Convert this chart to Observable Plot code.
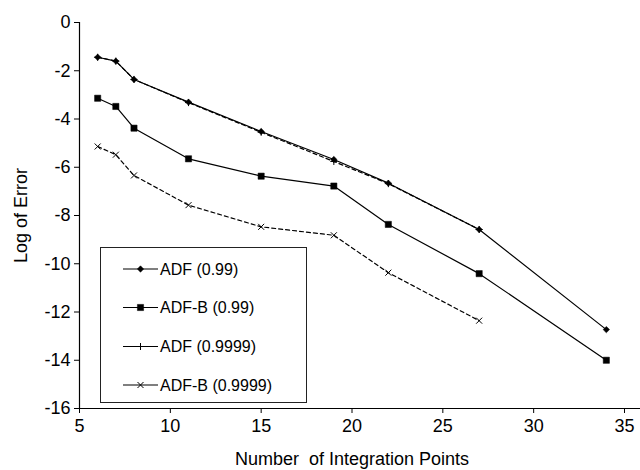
<!DOCTYPE html>
<html>
<head>
<meta charset="utf-8">
<script src="https://cdn.jsdelivr.net/npm/d3@7"></script>
<script src="https://cdn.jsdelivr.net/npm/@observablehq/plot@0.6"></script>
<style>
  html, body { margin: 0; padding: 0; background: #fff; }
  #wrap { position: relative; width: 640px; height: 470px; font-family: "Liberation Sans", Arial, sans-serif; }
  #wrap svg g[aria-label="x-axis tick label"], #wrap svg g[aria-label="y-axis tick label"],
  #wrap svg g[aria-label="x-axis tick label"] text, #wrap svg g[aria-label="y-axis tick label"] text { font-size: 18px !important; }
  #legend { position: absolute; left: 100px; top: 247px; width: 205px; height: 154px; border: 1.2px solid #222; background: #fff; }
</style>
</head>
<body>
<div id="wrap"></div>
<script>
// ---- data ----
const xPoints = [6, 7, 8, 11, 15, 19, 22, 27, 34];
const xPointsShort = [6, 7, 8, 11, 15, 19, 22, 27];
const adf099 = [-1.44, -1.60, -2.36, -3.30, -4.52, -5.68, -6.66, -8.58, -12.73];
const adfB099 = [-3.14, -3.48, -4.38, -5.65, -6.37, -6.78, -8.37, -10.41, -14.0];
const adf09999 = [-1.44, -1.60, -2.36, -3.32, -4.55, -5.76, -6.68, -8.58];
const adfB09999 = [-5.14, -5.48, -6.34, -7.57, -8.47, -8.82, -10.37, -12.36];
const seriesNames = ["ADF (0.99)", "ADF-B (0.99)", "ADF (0.9999)", "ADF-B (0.9999)"];
const xTicks = [5, 10, 15, 20, 25, 30, 35];
const yTicks = [0, -2, -4, -6, -8, -10, -12, -14, -16];
const xTitle = "Number\u00a0 of Integration Points";
const yTitle = "Log of Error";

// ---- symbols (r = half extent) ----
const rad = size => Math.sqrt(size / Math.PI);
const symDiamond = { draw(ctx, size) { const r = rad(size); ctx.moveTo(0, -r); ctx.lineTo(r, 0); ctx.lineTo(0, r); ctx.lineTo(-r, 0); ctx.closePath(); } };
const symSquare = { draw(ctx, size) { const r = rad(size); ctx.rect(-r, -r, 2 * r, 2 * r); } };
const symPlus = { draw(ctx, size) { const r = rad(size); ctx.moveTo(-r, 0); ctx.lineTo(r, 0); ctx.moveTo(0, -r); ctx.lineTo(0, r); } };
const symTimes = { draw(ctx, size) { const r = rad(size); ctx.moveTo(-r, -r); ctx.lineTo(r, r); ctx.moveTo(-r, r); ctx.lineTo(r, -r); } };

const series = [
  { name: seriesNames[0], xs: xPoints, ys: adf099, sym: symDiamond, r: 3.2, filled: true, dash: null },
  { name: seriesNames[1], xs: xPoints, ys: adfB099, sym: symSquare, r: 3.1, filled: true, dash: null },
  { name: seriesNames[2], xs: xPointsShort, ys: adf09999, sym: symPlus, r: 3.5, filled: false, dash: "4,3" },
  { name: seriesNames[3], xs: xPointsShort, ys: adfB09999, sym: symTimes, r: 3, filled: false, dash: "4,3" }
];
const rowsOf = s => s.xs.map((x, i) => ({ x, y: s.ys[i], series: s.name }));

const FONT = "'Liberation Sans', Arial, sans-serif";
const marks = [
  Plot.ruleX([5], { y1: -16, y2: 0, stroke: "#000", strokeWidth: 1.2 }),
  Plot.ruleY([-16], { x1: 5, x2: 35.9, stroke: "#000", strokeWidth: 1.2 }),
  Plot.axisX({ ticks: xTicks, tickSize: 5, tickPadding: 6, label: null, tickFormat: d => String(d), fontSize: 18 }),
  Plot.axisY({ ticks: yTicks, tickSize: 5, tickPadding: 4, label: null, tickFormat: d => String(d), fontSize: 18 }),
  Plot.text([xTitle], { frameAnchor: "bottom", dy: 51, lineAnchor: "middle", textAnchor: "middle", fontSize: 18, fill: "#000" }),
  Plot.text([yTitle], { frameAnchor: "left", dx: -58, rotate: -90, lineAnchor: "middle", textAnchor: "middle", fontSize: 18, fill: "#000" })
];
for (const s of series) {
  marks.push(Plot.line(rowsOf(s), { x: "x", y: "y", stroke: "#000", strokeWidth: 1.2, strokeDasharray: s.dash || undefined }));
}
for (const s of series) {
  marks.push(Plot.dot(rowsOf(s), { x: "x", y: "y", symbol: s.sym, r: s.r,
    fill: s.filled ? "#000" : "none", stroke: "#000", strokeWidth: s.filled ? 0.5 : 1 }));
}

const chart = Plot.plot({
  width: 640, height: 470,
  marginLeft: 79, marginRight: 16, marginTop: 22, marginBottom: 62,
  style: { fontFamily: FONT, fontSize: "18px", color: "#000", background: "#fff", overflow: "visible" },
  x: { domain: [5, 35] },
  y: { domain: [-16, 0] },
  marks
});
const wrap = document.getElementById("wrap");
wrap.appendChild(chart);

// ---- legend (overlay inside plot area) ----
const legend = document.createElement("div");
legend.id = "legend";
wrap.appendChild(legend);
const lsvg = d3.select(legend).append("svg").attr("width", 205).attr("height", 154);
const rowY = [21, 59.5, 98.5, 137];
series.forEach((s, i) => {
  const g = lsvg.append("g").attr("transform", `translate(0,${rowY[i]})`);
  g.append("line").attr("x1", 22).attr("x2", 57).attr("y1", 0).attr("y2", 0).attr("stroke", "#000").attr("stroke-width", 1.2);
  const size = Math.PI * s.r * s.r;
  g.append("path").attr("transform", "translate(39.5,0)").attr("d", d3.symbol(s.sym, size)())
    .attr("fill", s.filled ? "#000" : "none").attr("stroke", "#000").attr("stroke-width", s.filled ? 0.5 : 1);
  g.append("text").attr("x", 59).attr("y", 0).attr("dy", "0.35em").attr("font-size", 16)
    .attr("font-family", FONT).attr("fill", "#000").text(s.name);
});
</script>
</body>
</html>
